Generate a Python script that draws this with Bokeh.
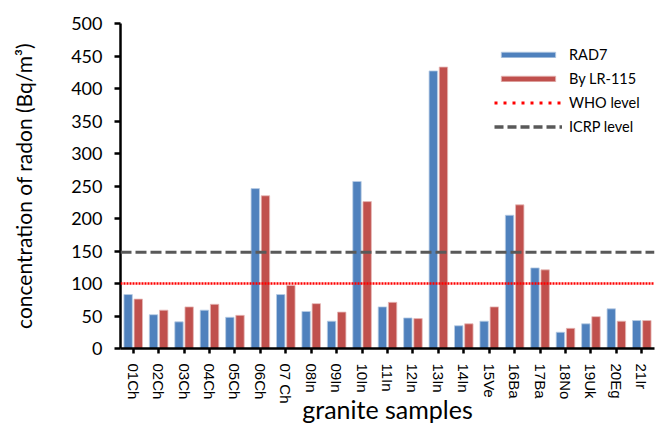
from bokeh.plotting import figure
from bokeh.models import FactorRange, Range1d, Span, Legend, LegendItem, ColumnDataSource, FixedTicker
from bokeh.transform import dodge
from bokeh.embed import file_html
from bokeh.resources import INLINE

samples = ["01Ch", "02Ch", "03Ch", "04Ch", "05Ch", "06Ch", "07 Ch", "08In", "09In", "10In",
           "11In", "12In", "13In", "14In", "15Ve", "16Ba", "17Ba", "18No", "19Uk", "20Eg", "21Ir"]
rad7 = [83, 52, 41, 59, 48, 246, 83, 57, 42, 257, 64, 47, 427, 35, 42, 205, 124, 25, 38, 61, 43]
lr115 = [76, 59, 64, 68, 51, 235, 97, 69, 56, 226, 71, 46, 433, 38, 64, 221, 121, 31, 49, 42, 43]
who_level = 100
icrp_level = 148
y_ticks = [0, 50, 100, 150, 200, 250, 300, 350, 400, 450, 500]

BLUE = "#4F81BD"
RED = "#C0504D"
NAN = float("nan")

src = ColumnDataSource(dict(sample=samples, rad7=rad7, lr115=lr115))

p = figure(width=660, height=426, output_backend="svg", toolbar_location=None,
           x_range=FactorRange(factors=samples), y_range=Range1d(0, 500),
           min_border_left=120, min_border_right=6, min_border_top=23, min_border_bottom=78)
p.outline_line_color = None
p.xgrid.visible = False
p.ygrid.visible = False

r1 = p.vbar(x=dodge("sample", -0.2, range=p.x_range), top="rad7", width=0.33, source=src,
            fill_color=BLUE, line_color="#B9CDE5", line_width=0.8)
r2 = p.vbar(x=dodge("sample", 0.2, range=p.x_range), top="lr115", width=0.33, source=src,
            fill_color=RED, line_color="#E6B9B8", line_width=0.8)

p.add_layout(Span(location=who_level, dimension="width", line_color="#FF0000",
                  line_dash="2 1", line_width=2.5))
p.add_layout(Span(location=icrp_level, dimension="width", line_color="#595959",
                  line_dash="11 4", line_width=3))

# legend-only line renderers (no visible data)
l1 = p.line(x=samples[:2], y=[NAN, NAN], line_color="#FF0000", line_dash="3 6", line_width=3)
l2 = p.line(x=samples[:2], y=[NAN, NAN], line_color="#595959", line_dash="9 4", line_width=3.5)

legend = Legend(items=[LegendItem(label="RAD7", renderers=[r1]),
                       LegendItem(label="By LR-115", renderers=[r2]),
                       LegendItem(label="WHO level", renderers=[l1]),
                       LegendItem(label="ICRP level", renderers=[l2])],
                location=(374, 213), orientation="vertical",
                glyph_width=68, glyph_height=7, label_height=7, spacing=7,
                padding=0, margin=0, label_standoff=7,
                border_line_color=None, background_fill_alpha=0,
                label_text_font="Lato", label_text_font_size="14.5px", label_text_color="black")
p.add_layout(legend)

# axes
for ax in (p.xaxis[0], p.yaxis[0]):
    ax.axis_line_color = "black"
    ax.axis_line_width = 2.5
    ax.major_tick_line_color = "black"
    ax.major_tick_line_width = 2.5
    ax.major_tick_in = 0
    ax.minor_tick_line_color = None
    ax.major_label_text_color = "black"
    ax.axis_label_text_color = "black"
    ax.axis_label_text_font_style = "normal"

p.yaxis.ticker = FixedTicker(ticks=y_ticks)
p.yaxis.major_tick_out = 6
p.yaxis.major_label_standoff = 12
p.yaxis.major_label_text_font = "Lato"
p.yaxis.major_label_text_font_size = "18px"
p.yaxis.axis_label = "concentration of radon (Bq/m³)"
p.yaxis.axis_label_text_font = "Lato"
p.yaxis.axis_label_text_font_size = "21px"
p.yaxis.axis_label_standoff = 32

p.xaxis.major_tick_out = 5
p.xaxis.major_label_orientation = "vertical"
p.xaxis.major_label_standoff = 10
p.xaxis.major_label_text_font = "Liberation Sans"
p.xaxis.major_label_text_font_size = "15px"
p.xaxis.axis_label = "granite samples"
p.xaxis.axis_label_text_font = "Lato"
p.xaxis.axis_label_text_font_size = "25px"
p.xaxis.axis_label_standoff = -13

open("out.html", "w").write(file_html(p, INLINE))
